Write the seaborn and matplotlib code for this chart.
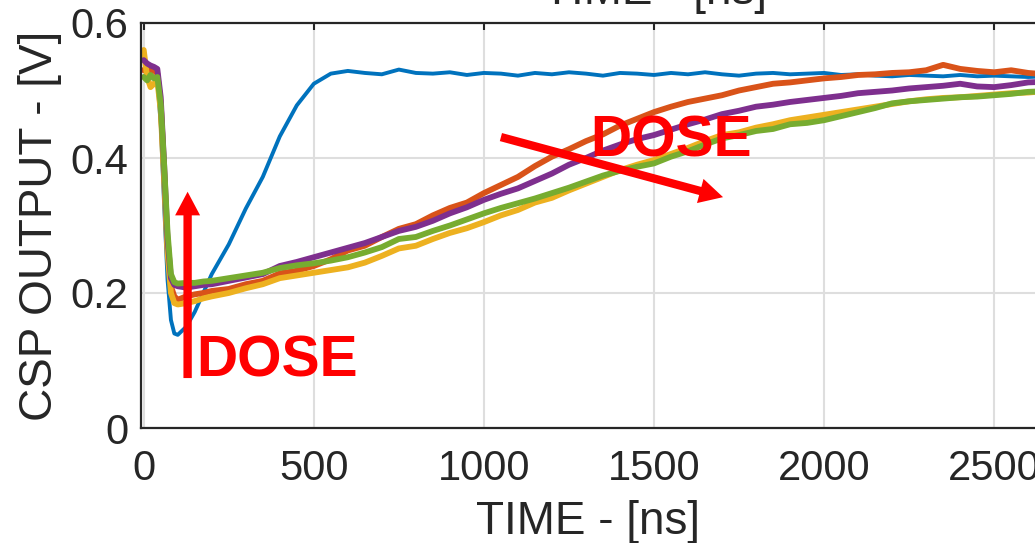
import pandas as pd
import matplotlib
matplotlib.use("Agg")
import matplotlib.pyplot as plt
import seaborn as sns

# sample times in ns
time_ns = [0, 10, 20, 30, 40, 50, 60, 70, 80, 90, 100, 125, 150, 175,
           200, 250, 300, 350, 400, 450, 500, 550, 600, 650, 700, 750,
           800, 850, 900, 950, 1000, 1050, 1100, 1150, 1200, 1250, 1300,
           1350, 1400, 1450, 1500, 1550, 1600, 1650, 1700, 1750, 1800,
           1850, 1900, 1950, 2000, 2050, 2100, 2150, 2200, 2250, 2300,
           2350, 2400, 2450, 2500, 2550, 2600, 2650]

# CSP output in V, one trace per dose step
blue = [0.520, 0.525, 0.520, 0.518, 0.515, 0.450, 0.330, 0.220, 0.160, 0.140, 0.138, 0.150, 0.172, 0.200,
        0.228, 0.272, 0.325, 0.372, 0.432, 0.478, 0.510, 0.525, 0.529, 0.526, 0.524, 0.531,
        0.526, 0.525, 0.527, 0.523, 0.526, 0.525, 0.522, 0.526, 0.524, 0.527, 0.525,
        0.522, 0.526, 0.525, 0.523, 0.526, 0.524, 0.527, 0.524, 0.522, 0.525,
        0.526, 0.524, 0.525, 0.526, 0.523, 0.524, 0.522, 0.521, 0.523, 0.522,
        0.521, 0.523, 0.521, 0.522, 0.521, 0.520, 0.521]
orange = [0.530, 0.535, 0.528, 0.530, 0.525, 0.480, 0.380, 0.270, 0.210, 0.195, 0.190, 0.195, 0.198, 0.200,
          0.203, 0.206, 0.213, 0.218, 0.229, 0.233, 0.240, 0.250, 0.263, 0.270, 0.283, 0.295,
          0.302, 0.315, 0.326, 0.334, 0.348, 0.360, 0.372, 0.388, 0.402, 0.413, 0.425,
          0.435, 0.448, 0.458, 0.468, 0.476, 0.483, 0.488, 0.493, 0.500, 0.505,
          0.510, 0.512, 0.515, 0.518, 0.520, 0.523, 0.524, 0.526, 0.527, 0.530,
          0.538, 0.532, 0.529, 0.527, 0.530, 0.526, 0.524]
yellow = [0.560, 0.520, 0.505, 0.510, 0.515, 0.470, 0.370, 0.260, 0.200, 0.185, 0.183, 0.185, 0.188, 0.192,
          0.195, 0.200, 0.207, 0.213, 0.222, 0.226, 0.230, 0.234, 0.238, 0.245, 0.255, 0.266,
          0.270, 0.280, 0.289, 0.296, 0.305, 0.315, 0.323, 0.334, 0.341, 0.352, 0.362,
          0.372, 0.382, 0.390, 0.397, 0.406, 0.415, 0.425, 0.434, 0.438, 0.445,
          0.450, 0.456, 0.460, 0.464, 0.468, 0.472, 0.476, 0.480, 0.484, 0.487,
          0.489, 0.490, 0.492, 0.494, 0.496, 0.497, 0.499]
purple = [0.545, 0.540, 0.537, 0.535, 0.532, 0.490, 0.390, 0.280, 0.222, 0.212, 0.210, 0.208, 0.210, 0.212,
          0.213, 0.218, 0.223, 0.228, 0.240, 0.246, 0.253, 0.260, 0.267, 0.274, 0.283, 0.292,
          0.298, 0.307, 0.318, 0.327, 0.338, 0.347, 0.355, 0.366, 0.377, 0.390, 0.400,
          0.411, 0.420, 0.428, 0.434, 0.442, 0.450, 0.457, 0.465, 0.470, 0.476,
          0.479, 0.483, 0.486, 0.489, 0.492, 0.496, 0.498, 0.500, 0.503, 0.505,
          0.507, 0.510, 0.506, 0.505, 0.508, 0.512, 0.513]
green = [0.520, 0.515, 0.523, 0.518, 0.520, 0.480, 0.390, 0.290, 0.228, 0.216, 0.214, 0.215, 0.215, 0.217,
         0.218, 0.222, 0.226, 0.230, 0.237, 0.241, 0.244, 0.248, 0.253, 0.260, 0.268, 0.280,
         0.283, 0.292, 0.300, 0.309, 0.318, 0.326, 0.333, 0.340, 0.348, 0.356, 0.365,
         0.374, 0.381, 0.387, 0.392, 0.402, 0.410, 0.420, 0.429, 0.434, 0.440,
         0.443, 0.450, 0.452, 0.456, 0.462, 0.468, 0.474, 0.481, 0.484, 0.486,
         0.488, 0.490, 0.491, 0.493, 0.495, 0.498, 0.499]

traces = {"blue": blue, "orange": orange, "yellow": yellow, "purple": purple, "green": green}
colors = {"blue": "#0072BD", "orange": "#D95319", "yellow": "#EDB120",
          "purple": "#7E2F8E", "green": "#77AC30"}

frames = [pd.DataFrame({"time": time_ns, "value": v, "trace": k}) for k, v in traces.items()]
df = pd.concat(frames, ignore_index=True)

sns.set_theme(style="white")
plt.rcParams["font.family"] = ["Liberation Sans", "DejaVu Sans"]
DARK = "#262626"

fig = plt.figure(figsize=(10.35, 5.43), dpi=100)
ax = fig.add_axes([141 / 1035, 115 / 543, (1035 - 141) / 1035, 405 / 543])

for name in traces:
    sub = df[df["trace"] == name]
    sns.lineplot(data=sub, x="time", y="value", ax=ax, color=colors[name],
                 linewidth=2.8 if name == "blue" else 4.2, legend=False)

ax.set_xlim(-8, 2620)
ax.set_ylim(0, 0.6)
ax.set_xticks([0, 500, 1000, 1500, 2000, 2500])
ax.set_yticks([0, 0.2, 0.4, 0.6])
ax.set_yticklabels(["0", "0.2", "0.4", "0.6"])
ax.grid(True, color="#dedede", linewidth=1.5)
ax.set_axisbelow(True)

for side in ["left", "bottom", "top"]:
    ax.spines[side].set_color(DARK)
    ax.spines[side].set_linewidth(1.6)
ax.spines["right"].set_visible(False)
ax.tick_params(axis="both", direction="in", length=5, width=1.5, colors=DARK,
               labelsize=30, top=True, right=False)
ax.tick_params(axis="x", pad=15)
ax.tick_params(axis="y", pad=9)

ax.set_xlabel("TIME - [ns]", fontsize=33, color=DARK, labelpad=8)
ax.set_ylabel("CSP OUTPUT - [V]", fontsize=33, color=DARK, labelpad=6)

# title of the panel above, cut off by the crop
fig.text(655 / 1035, 1 - 4 / 543, "TIME - [ns]", ha="center", va="baseline",
         fontsize=33, color=DARK)

arrow = dict(arrowstyle="simple,head_length=0.85,head_width=0.9,tail_width=0.3",
             mutation_scale=20, color="red", lw=0, shrinkA=0, shrinkB=0)
ax.annotate("", xy=(129, 0.35), xytext=(129, 0.074), arrowprops=arrow)
ax.annotate("", xy=(1703, 0.342), xytext=(1050, 0.431), arrowprops=arrow)
ax.text(155, 0.077, "DOSE", color="red", fontsize=41, fontweight="bold",
        ha="left", va="baseline")
ax.text(1550, 0.402, "DOSE", color="red", fontsize=41, fontweight="bold",
        ha="center", va="baseline")

fig.savefig("out.png", dpi=100)
